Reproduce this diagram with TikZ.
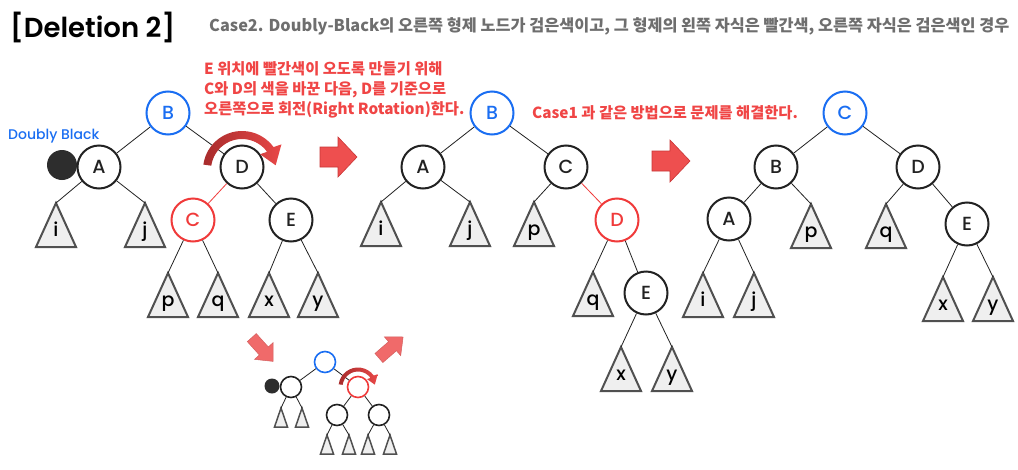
\documentclass[tikz,border=0pt]{standalone}
\usepackage{fontspec}
\setmainfont{Poppins}
\newfontfamily\pmed{Poppins Medium}
\newfontfamily\psemi{Poppins SemiBold}
\newfontfamily\kr{Noto Sans CJK KR}
\usetikzlibrary{arrows.meta,calc}
\definecolor{nblue}{HTML}{1A6EF2}
\definecolor{nred}{HTML}{F03A3A}
\definecolor{tred}{HTML}{F04545}
\definecolor{nblk}{HTML}{222222}
\definecolor{trif}{HTML}{EFEFEF}
\definecolor{tris}{HTML}{505050}
\definecolor{arw}{HTML}{EE4F4F}
\definecolor{arwd}{HTML}{C93636}
\definecolor{arwl}{HTML}{F06A6A}
\definecolor{rotd}{HTML}{A82C2C}
\definecolor{rotl}{HTML}{E84848}
\definecolor{subg}{HTML}{6E6E6E}
\tikzset{
 nd/.style={circle, draw=nblk, line width=2pt, fill=white, minimum size=43pt, inner sep=0pt, font=\pmed\fontsize{19}{19}\selectfont, text=nblk},
 ndb/.style={nd, draw=nblue, text=nblue},
 ndr/.style={nd, draw=nred, text=nred},
 sn/.style={circle, draw=nblk, line width=1.6pt, fill=white, minimum size=21pt, inner sep=0pt},
 snb/.style={sn, draw=nblue},
 snr/.style={sn, draw=nred},
 ed/.style={draw=nblk, line width=0.8pt},
 edr/.style={draw=nred, line width=0.8pt},
 tri/.style={fill=trif, draw=tris, line width=2pt, line join=miter},
 stri/.style={fill=trif, draw=tris, line width=1.5pt, line join=miter},
 trl/.style={anchor=base, inner sep=0pt, font=\pmed\fontsize{19}{19}\selectfont, text=black},
 blk/.style={fill=arw, draw=arwd, line width=0.6pt},
 blkl/.style={fill=arwl, draw=arwd!80, line width=0.5pt},
 note/.style={anchor=base west, inner sep=0pt, text=tred, font=\kr\bfseries\fontsize{15.3}{15.3}\selectfont},
 rotarr/.style={left color=rotd, right color=rotl},
}
\newcommand\subtri[6]{%
 \coordinate (#1) at (#2,#3);
 \filldraw[tri] (#1) -- ++(#4,#5) -- ++({-2*#4},0) -- cycle;
 \node[trl] (#1t) at (#2,{#3+0.77*#5}) {#6};}
\newcommand\smtri[3]{%
 \coordinate (#1) at (#2,#3);
 \filldraw[stri] (#1) -- ++(6.5,19) -- ++(-13,0) -- cycle;}
\newcommand\blockarrow[8]{\begin{scope}[shift={(#1,#2)},rotate=#3]
 \path[#8] ({-#4/2},{-#5}) -- ({#4/2-#7},{-#5}) -- ({#4/2-#7},{-#6}) -- ({#4/2},0) -- ({#4/2-#7},{#6}) -- ({#4/2-#7},{#5}) -- ({-#4/2},{#5}) -- cycle;
 \end{scope}}
\newcommand\rotarrow[3]{\begin{scope}[shift={(#1,#2)},scale=#3]
 \shade[rotarr] (172:39pt) arc[start angle=172, end angle=36, radius=39pt] -- (33:47pt) -- (8:34pt) -- (41:24pt) -- (36:31pt) arc[start angle=36, end angle=172, radius=31pt] -- cycle;
 \end{scope}}
\begin{document}
\begin{tikzpicture}[x=1pt,y=-1pt]
\useasboundingbox[fill=white] (0,0) rectangle (1018,469);
% titles
\node[anchor=base west, inner sep=0pt, font=\psemi\fontsize{27.5}{27.5}\selectfont] (title) at (10,37.5) {[Deletion 2]};
\node[anchor=base west, inner sep=0pt, text=subg, font=\kr\bfseries\fontsize{16.3}{16.3}\selectfont] (sub) at (209,31) {Case2. Doubly-Black의 오른쪽 형제 노드가 검은색이고, 그 형제의 왼쪽 자식은 빨간색, 오른쪽 자식은 검은색인 경우};
\node[note] (n1) at (204,74) {E 위치에 빨간색이 오도록 만들기 위해};
\node[note] (n2) at (204,94) {C와 D의 색을 바꾼 다음, D를 기준으로};
\node[note] (n3) at (204,114) {오른쪽으로 회전(Right Rotation)한다.};
\node[note] (n4) at (532,118) {Case1 과 같은 방법으로 문제를 해결한다.};
\node[anchor=base west, inner sep=0pt, text=nblue, font=\pmed\fontsize{14}{14}\selectfont] (dbt) at (8,139) {Doubly Black};

% ---------- left tree ----------
\subtri{i1}{56}{203}{20}{44}{i}
\subtri{j1}{145}{203}{20}{44}{j}
\subtri{p1}{168}{273}{20}{44}{p}
\subtri{q1}{218}{273}{20}{44}{q}
\subtri{x1}{269}{273}{20}{44}{x}
\subtri{y1}{318}{273}{20}{44}{y}
\node[circle, fill=nblk!95, minimum size=30pt, inner sep=0pt] (dot1) at (62,165) {};
\node[ndb] (B1) at (168,113) {B};
\node[nd] (A1) at (99,167) {A};
\node[nd] (D1) at (242,167) {D};
\node[ndr] (C1) at (193,220) {C};
\node[nd] (E1) at (291,220) {E};
\draw[ed] (B1) -- (A1);
\draw[ed] (B1) -- (D1);
\draw[ed] (A1) -- (i1);
\draw[ed] (A1) -- (j1);
\draw[edr] (D1) -- (C1);
\draw[ed] (D1) -- (E1);
\draw[ed] (C1) -- (p1);
\draw[ed] (C1) -- (q1);
\draw[ed] (E1) -- (x1);
\draw[ed] (E1) -- (y1);
\rotarrow{242}{170}{1}

% ---------- middle tree ----------
\subtri{i2}{381}{202}{20}{44}{i}
\subtri{j2}{470}{202}{20}{44}{j}
\subtri{p2}{534}{202}{20}{44}{p}
\subtri{q2}{593}{272}{20}{44}{q}
\subtri{x2}{621}{347}{20}{44}{x}
\subtri{y2}{672}{347}{20}{44}{y}
\node[ndb] (B2) at (492,113) {B};
\node[nd] (A2) at (423,167) {A};
\node[nd] (C2) at (566,167) {C};
\node[ndr] (D2) at (617,220) {D};
\node[nd] (E2) at (646,293) {E};
\draw[ed] (B2) -- (A2);
\draw[ed] (B2) -- (C2);
\draw[ed] (A2) -- (i2);
\draw[ed] (A2) -- (j2);
\draw[ed] (C2) -- (p2);
\draw[edr] (C2) -- (D2);
\draw[ed] (D2) -- (q2);
\draw[ed] (D2) -- (E2);
\draw[ed] (E2) -- (x2);
\draw[ed] (E2) -- (y2);

% ---------- right tree ----------
\subtri{p3}{811}{204}{20}{44}{p}
\subtri{q3}{886}{204}{20}{44}{q}
\subtri{i3}{703}{273}{20}{44}{i}
\subtri{j3}{754}{273}{20}{44}{j}
\subtri{x3}{943}{277}{20}{44}{x}
\subtri{y3}{993}{277}{20}{44}{y}
\node[ndb] (C3) at (845,113) {C};
\node[nd] (B3) at (776,167) {B};
\node[nd] (D3) at (918,167) {D};
\node[nd] (A3) at (729,219) {A};
\node[nd] (E3) at (967,224) {E};
\draw[ed] (C3) -- (B3);
\draw[ed] (C3) -- (D3);
\draw[ed] (B3) -- (A3);
\draw[ed] (B3) -- (p3);
\draw[ed] (A3) -- (i3);
\draw[ed] (A3) -- (j3);
\draw[ed] (D3) -- (q3);
\draw[ed] (D3) -- (E3);
\draw[ed] (E3) -- (x3);
\draw[ed] (E3) -- (y3);

% ---------- block arrows ----------
\blockarrow{338.5}{157}{0}{37}{10}{20}{19}{blk}
\blockarrow{671}{161}{0}{38}{10}{21}{20}{blk}
\blockarrow{262.5}{349.5}{-48}{32}{6}{12.5}{14}{blkl}
\blockarrow{391}{347.5}{41}{32}{6}{12.5}{14}{blkl}

% ---------- small tree ----------
\smtri{st1}{281}{408}
\smtri{st2}{302}{408}
\smtri{st3}{327}{435}
\smtri{st4}{349}{435}
\smtri{st5}{368}{435}
\smtri{st6}{390}{435}
\node[circle, fill=nblk!95, minimum size=15pt, inner sep=0pt] (sdot) at (272,386) {};
\node[snb] (sb) at (325,362) {};
\node[sn] (sl) at (291,387) {};
\node[snr] (sr) at (358,387) {};
\node[sn] (sc1) at (337,415) {};
\node[sn] (sc2) at (379,415) {};
\draw[ed] (sb) -- (sl);
\draw[ed] (sb) -- (sr);
\draw[ed] (sl) -- (st1);
\draw[ed] (sl) -- (st2);
\draw[ed] (sr) -- (sc1);
\draw[ed] (sr) -- (sc2);
\draw[ed] (sc1) -- (st3);
\draw[ed] (sc1) -- (st4);
\draw[ed] (sc2) -- (st5);
\draw[ed] (sc2) -- (st6);
\rotarrow{358}{387}{0.5}
\end{tikzpicture}
\end{document}
